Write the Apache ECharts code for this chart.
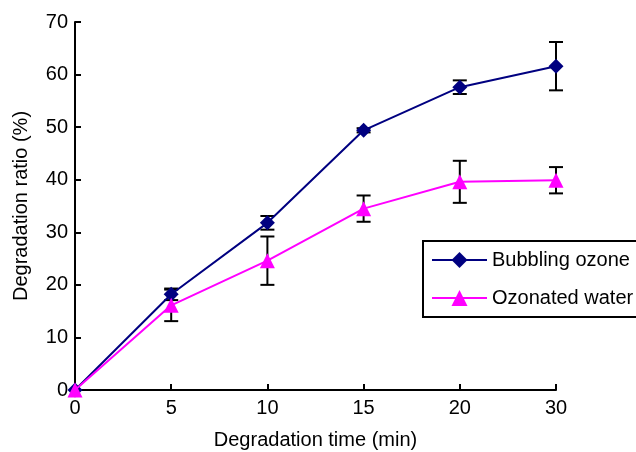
<!DOCTYPE html>
<html>
<head>
<meta charset="utf-8">
<script src="https://cdn.jsdelivr.net/npm/echarts@6/dist/echarts.min.js"></script>
<style>html,body{margin:0;padding:0;background:#fff}#c{width:636px;height:452px}</style>
</head>
<body>
<div id="c"></div>
<script>
const categories = ['0', '5', '10', '15', '20', '30'];
const bubbling = [0, 18.2, 31.8, 49.4, 57.6, 61.6];
const bubblingErr = [0, 1.1, 1.3, 0.4, 1.3, 4.6];
const ozonated = [0, 16.1, 24.6, 34.5, 39.6, 39.9];
const ozonatedErr = [0, 3.0, 4.6, 2.5, 4.0, 2.5];
const seriesNames = ['Bubbling ozone', 'Ozonated water'];
const yTicks = {min: 0, max: 70, interval: 10};

const FONT = '"Liberation Sans", Arial, Helvetica, sans-serif';
const FS = 20;
const chart = echarts.init(document.getElementById('c'), null, {renderer: 'canvas'});

function errData(vals, errs) {
  return vals.map((v, i) => [i, v - errs[i], v + errs[i]]);
}
function renderErr(params, api) {
  const x = api.value(0);
  const lo = api.coord([x, api.value(1)]);
  const hi = api.coord([x, api.value(2)]);
  if (Math.abs(lo[1] - hi[1]) < 0.5) return null;
  const w = 7;
  const st = {stroke: '#000', lineWidth: 2};
  return {
    type: 'group',
    children: [
      {type: 'line', shape: {x1: lo[0], y1: lo[1], x2: hi[0], y2: hi[1]}, style: st},
      {type: 'line', shape: {x1: lo[0] - w, y1: lo[1], x2: lo[0] + w, y2: lo[1]}, style: st},
      {type: 'line', shape: {x1: hi[0] - w, y1: hi[1], x2: hi[0] + w, y2: hi[1]}, style: st}
    ]
  };
}

chart.setOption({
  animation: false,
  backgroundColor: '#fff',
  textStyle: {fontFamily: FONT, color: '#000'},
  grid: {left: 75, right: 80, top: 22, bottom: 62, containLabel: false, outerBoundsMode: 'none'},
  legend: {
    data: seriesNames,
    orient: 'vertical',
    left: 423, top: 241,
    padding: [9, 10, 9, 8],
    itemWidth: 55, itemHeight: 20, itemGap: 18,
    borderColor: '#000', borderWidth: 2, backgroundColor: '#fff',
    textStyle: {fontFamily: FONT, fontSize: FS, color: '#000'}
  },
  xAxis: {
    type: 'category',
    data: categories,
    boundaryGap: false,
    name: 'Degradation time (min)',
    nameLocation: 'middle',
    nameGap: 40,
    nameTextStyle: {fontFamily: FONT, fontSize: FS, color: '#000'},
    axisLine: {lineStyle: {color: '#000', width: 2}},
    axisTick: {inside: true, length: 6, lineStyle: {color: '#000', width: 2}, alignWithLabel: true},
    axisLabel: {fontFamily: FONT, fontSize: FS, color: '#000', margin: 8},
    splitLine: {show: false}
  },
  yAxis: {
    type: 'value',
    min: yTicks.min, max: yTicks.max, interval: yTicks.interval,
    name: 'Degradation ratio (%)',
    nameLocation: 'middle',
    nameGap: 44,
    nameTextStyle: {fontFamily: FONT, fontSize: FS, color: '#000'},
    axisLine: {show: true, lineStyle: {color: '#000', width: 2}},
    axisTick: {show: true, inside: true, length: 6, lineStyle: {color: '#000', width: 2}},
    axisLabel: {fontFamily: FONT, fontSize: FS, color: '#000', margin: 7},
    splitLine: {show: false}
  },
  series: [
    {type: 'custom', name: 'errB', data: errData(bubbling, bubblingErr), renderItem: renderErr,
     encode: {x: 0, y: [1, 2]}, z: 1, silent: true},
    {type: 'custom', name: 'errO', data: errData(ozonated, ozonatedErr), renderItem: renderErr,
     encode: {x: 0, y: [1, 2]}, z: 1, silent: true},
    {type: 'line', name: seriesNames[0], data: bubbling, symbol: 'diamond', symbolSize: 15,
     showAllSymbol: true, color: '#000080',
     lineStyle: {color: '#000080', width: 2}, itemStyle: {color: '#000080'}, z: 3},
    {type: 'line', name: seriesNames[1], data: ozonated, symbol: 'triangle', symbolSize: 15,
     showAllSymbol: true, color: '#FF00FF',
     lineStyle: {color: '#FF00FF', width: 2}, itemStyle: {color: '#FF00FF'}, z: 4}
  ]
});
</script>
</body>
</html>
